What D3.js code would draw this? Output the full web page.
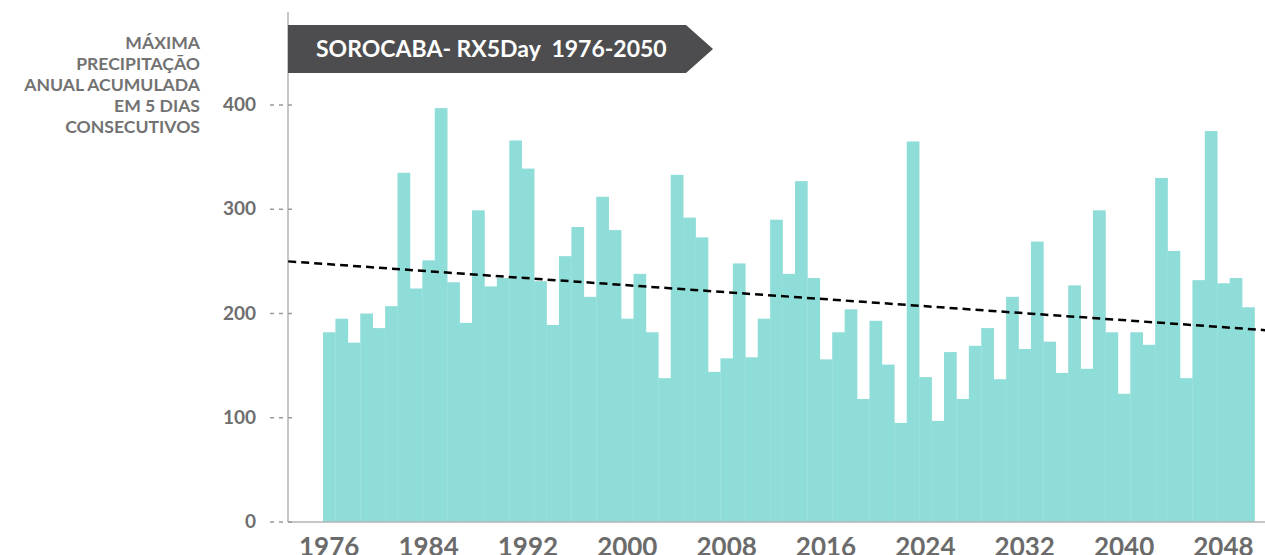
<!DOCTYPE html>
<html lang="pt">
<head>
<meta charset="utf-8">
<title>SOROCABA- RX5Day 1976-2050</title>
<script src="https://d3js.org/d3.v7.min.js"></script>
<style>
  html, body { margin: 0; padding: 0; background: #fff; overflow: hidden; }
  svg { display: block; font-family: Lato, "Open Sans", sans-serif; }
  .ytitle { font-size: 17.6px; font-weight: 700; fill: #727272; }
  .ytick text { font-size: 19px; font-weight: 700; fill: #6e6e6e; }
  .xtick text { font-size: 26px; font-weight: 700; fill: #6b6b6b; }
  .banner-text { font-size: 23px; font-weight: 700; fill: #fff; }
</style>
</head>
<body>
<div id="chart"></div>
<script>
// dados
const years = d3.range(1976, 2051);
const rx5day = [
  182, 195, 172, 200, 186, 207, 335, 224, 251, 397,
  230, 191, 299, 226, 234, 366, 339, 231, 189, 255,
  283, 216, 312, 280, 195, 238, 182, 138, 333, 292,
  273, 144, 157, 248, 158, 195, 290, 238, 327, 234,
  156, 182, 204, 118, 193, 151, 95, 365, 139, 97,
  163, 118, 169, 186, 137, 216, 166, 269, 173, 143,
  227, 147, 299, 182, 123, 182, 170, 330, 260, 138,
  232, 375, 229, 234, 206
];
const xTickYears = [1976, 1984, 1992, 2000, 2008, 2016, 2024, 2032, 2040, 2048];
const yTicks = [0, 100, 200, 300, 400];
const trendYears = [1972.7, 2051.4];
const trendValues = [250, 184];
const yTitleLines = ["MÁXIMA", "PRECIPITAÇÃO", "ANUAL ACUMULADA", "EM 5 DIAS", "CONSECUTIVOS"];
const titleText = "SOROCABA- RX5Day  1976-2050";

const W = 1265, H = 555;
const axisX = 288, baseY = 522;

const svg = d3.select("#chart").append("svg")
  .attr("width", W).attr("height", H);

const x = d3.scaleBand().domain(years).range([323, 1254.5]).padding(0);
// escala contínua em anos, alinhada ao centro das barras
const xLin = d3.scaleLinear()
  .domain([1976, 2050])
  .range([x(1976) + x.bandwidth() / 2, x(2050) + x.bandwidth() / 2]);
const y = d3.scaleLinear().domain([0, 400]).range([baseY, 105]);

// barras
svg.append("g").selectAll("rect")
  .data(years)
  .join("rect")
  .attr("x", d => x(d))
  .attr("width", x.bandwidth() + 0.3)
  .attr("y", (d, i) => y(rx5day[i]))
  .attr("height", (d, i) => baseY - y(rx5day[i]))
  .attr("fill", "#8fddd8");

// eixo vertical
svg.append("line")
  .attr("x1", axisX).attr("x2", axisX)
  .attr("y1", 12).attr("y2", baseY)
  .attr("stroke", "#b5b5b5").attr("stroke-width", 1.5);

// eixo horizontal
svg.append("line")
  .attr("x1", axisX).attr("x2", W)
  .attr("y1", baseY).attr("y2", baseY)
  .attr("stroke", "#b5b5b5").attr("stroke-width", 1.5);

// ticks do eixo y
const yt = svg.append("g").selectAll("g")
  .data(yTicks)
  .join("g")
  .attr("class", "ytick")
  .attr("transform", d => `translate(0,${y(d)})`);
yt.append("line")
  .attr("x1", 270).attr("x2", 297)
  .attr("stroke", "#9a9a9a").attr("stroke-width", 1.3)
  .attr("stroke-dasharray", "4,5");
yt.append("text")
  .attr("x", 256).attr("y", 6)
  .attr("text-anchor", "end")
  .text(d => d);

// rótulos do eixo x
svg.append("g").selectAll("text")
  .data(xTickYears)
  .join("text")
  .attr("class", "xtick")
  .attr("x", d => x(d) + x.bandwidth() / 2)
  .attr("y", 556)
  .attr("text-anchor", "middle")
  .style("font-size", "26px").style("font-weight", 700).style("fill", "#6b6b6b")
  .text(d => d);

// linha de tendência
svg.append("line")
  .attr("x1", xLin(trendYears[0])).attr("x2", xLin(trendYears[1]))
  .attr("y1", y(trendValues[0])).attr("y2", y(trendValues[1]))
  .attr("stroke", "#000").attr("stroke-width", 2.5)
  .attr("stroke-dasharray", "8,5");

// título do eixo y
svg.append("text")
  .attr("class", "ytitle")
  .attr("text-anchor", "end")
  .selectAll("tspan")
  .data(yTitleLines)
  .join("tspan")
  .attr("x", 200)
  .attr("y", (d, i) => 49 + i * 21)
  .text(d => d);

// faixa do título
const bx0 = axisX, bx1 = 686, tip = 713, by0 = 25, by1 = 73;
svg.append("path")
  .attr("d", `M${bx0},${by0}L${bx1},${by0}L${tip},${(by0 + by1) / 2}L${bx1},${by1}L${bx0},${by1}Z`)
  .attr("fill", "#4d4d4f");
svg.append("text")
  .attr("class", "banner-text")
  .attr("x", 316).attr("y", (by0 + by1) / 2 + 8)
  .attr("xml:space", "preserve")
  .style("white-space", "pre")
  .text(titleText);
</script>
</body>
</html>
